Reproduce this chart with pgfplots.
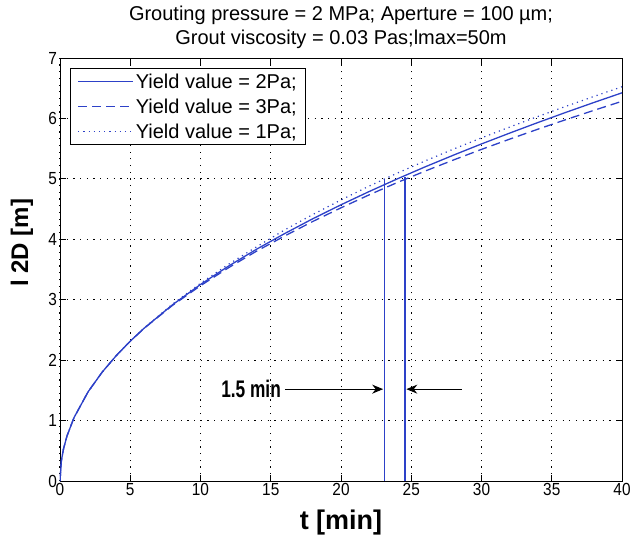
\documentclass[border=0pt]{standalone}
\usepackage{fontspec}
\setmainfont{Liberation Sans}
\usepackage{pgfplots}
\pgfplotsset{compat=1.18}
\usetikzlibrary{arrows.meta}
\definecolor{mblue}{RGB}{45,65,200}
\begin{document}
\begin{tikzpicture}
\begin{axis}[
  name=ax, at={(0pt,0pt)}, anchor=south west,
  scale only axis, width=562pt, height=423pt,
  xmin=0, xmax=40, ymin=0, ymax=7,
  xtick={0,5,...,40}, ytick={0,1,...,7},
  grid=major, grid style={black, line width=1pt, dash pattern=on 1.2pt off 5.5pt},
  axis line style={black, line width=0.9pt},
  tick align=inside, tick style={black, line width=0.9pt},
  major tick length=6pt,
  /pgf/number format/assume math mode=true,
  ticklabel style={font=\fontsize{17.5}{17.5}\selectfont, xscale=0.88},
  xticklabel style={yshift=1pt},
  yticklabel style={xshift=0pt},
  xlabel={\textbf{t [min]}}, ylabel={\textbf{l 2D [m]}},
  xlabel style={font=\fontsize{27}{27}\selectfont, at={(axis description cs:0.5,-0.0993)}, anchor=center},
  ylabel style={font=\fontsize{24}{24}\selectfont, at={(axis description cs:-0.0676,0.563)}, anchor=center},
  title={Grouting pressure = 2 MPa; Aperture = 100 µm;\\Grout viscosity = 0.03 Pas;lmax=50m},
  title style={font=\fontsize{20}{24}\selectfont, align=center, at={(axis description cs:0.5,1.058)}, anchor=center},
  legend style={at={(axis description cs:0.0178,0.976)}, anchor=north west, draw=black, line width=0.9pt,
    font=\fontsize{20}{22}\selectfont, row sep=5pt, inner xsep=7pt, inner ysep=3pt},
  legend cell align=left,
  legend image code/.code={\draw[#1] (0pt,0pt) -- (55pt,0pt);},
]
\addplot[mblue, line width=1.3pt] coordinates {
(0,0)(0.1,0.339)(0.25,0.532)(0.5,0.747)(1,1.05)(2,1.476)(3,1.801)(4,2.074)(5,2.314)(6,2.531)(8,2.915)(10,3.252)(12,3.557)(14,3.837)(16,4.096)(18,4.341)(20,4.571)(22,4.790)(24,4.999)(26,5.200)(28,5.392)(30,5.578)(32,5.757)(34,5.931)(36,6.100)(38,6.264)(40,6.424)};
\addlegendentry{Yield value = 2Pa;}
\addplot[mblue, line width=1.3pt, dash pattern=on 9pt off 5pt] coordinates {
(0,0)(0.1,0.339)(0.25,0.532)(0.5,0.747)(1,1.05)(2,1.476)(3,1.801)(4,2.074)(5,2.314)(6,2.529)(8,2.905)(10,3.232)(12,3.530)(14,3.805)(16,4.056)(18,4.296)(20,4.521)(22,4.735)(24,4.939)(26,5.130)(28,5.312)(30,5.488)(32,5.657)(34,5.821)(36,5.980)(38,6.134)(40,6.284)};
\addlegendentry{Yield value = 3Pa;}
\addplot[mblue, line width=1.2pt, dash pattern=on 1.2pt off 4pt] coordinates {
(0,0)(0.1,0.339)(0.25,0.532)(0.5,0.747)(1,1.05)(2,1.476)(3,1.801)(4,2.074)(5,2.316)(6,2.535)(8,2.925)(10,3.272)(12,3.587)(14,3.877)(16,4.156)(18,4.411)(20,4.651)(22,4.880)(24,5.094)(26,5.298)(28,5.492)(30,5.678)(32,5.857)(34,6.031)(36,6.200)(38,6.364)(40,6.524)};
\addlegendentry{Yield value = 1Pa;}
\addplot[mblue, line width=1.5pt, forget plot] coordinates {(23.1,0)(23.1,5.0)};
\addplot[mblue, line width=1.5pt, forget plot] coordinates {(24.55,0)(24.55,5.03)};
\draw[-{Stealth[length=11pt,width=9pt]}, line width=1pt] (axis cs:16.0,1.52) -- (axis cs:23.0,1.52);
\draw[-{Stealth[length=11pt,width=9pt]}, line width=1pt] (axis cs:28.6,1.52) -- (axis cs:24.65,1.52);
\node[font=\bfseries\fontsize{24}{24}\selectfont, xscale=0.72] at (axis cs:13.6,1.52) {1.5 min};
\end{axis}
\pgfresetboundingbox
\path[use as bounding box] (-60pt,-61pt) rectangle (571pt,481pt);
\end{tikzpicture}
\end{document}
